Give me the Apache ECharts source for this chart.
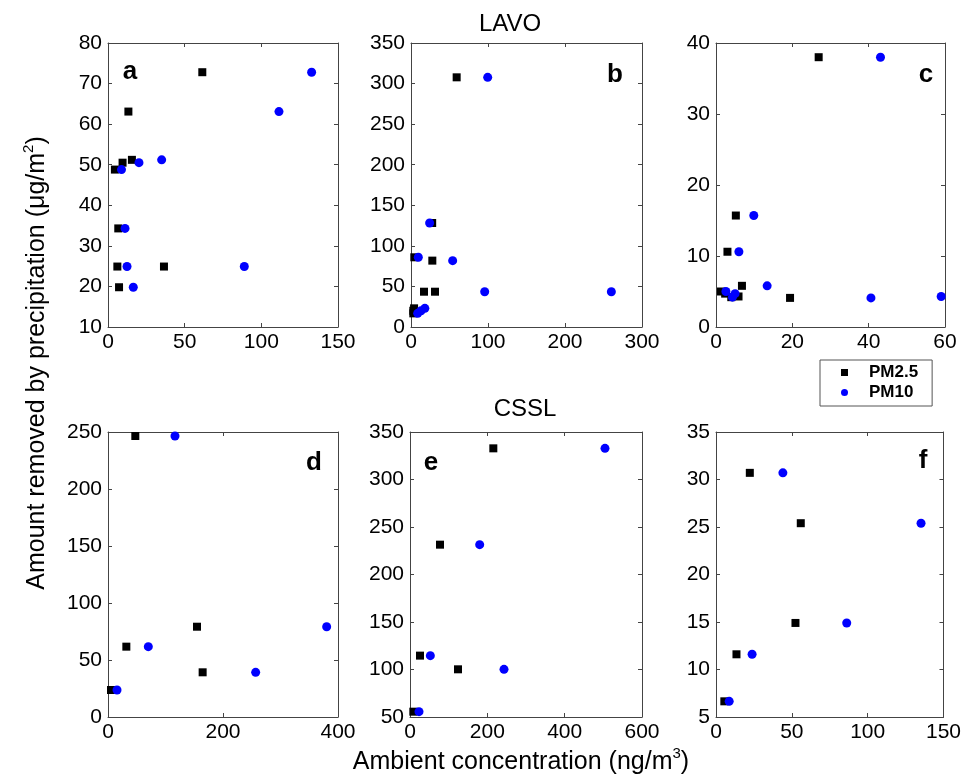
<!DOCTYPE html>
<html>
<head>
<meta charset="utf-8">
<title>Amount removed by precipitation vs ambient concentration</title>
<script src="https://cdn.jsdelivr.net/npm/echarts@6/dist/echarts.min.js"></script>
<style>
  html, body { margin: 0; padding: 0; background: #fff; }
  #chart { width: 964px; height: 780px; }
</style>
</head>
<body>
<div id="chart"></div>
<script>
// ---- Data: deposition amount (ug/m2) with matching PM2.5 / PM10 ambient concentrations (ng/m3)
// LAVO
const amountA = [72.8, 63.1, 51.2, 50.5, 48.8, 34.3, 24.9, 24.9, 19.8];
const pm25A   = [61.5, 13.3, 15.6, 9.5, 4.5, 6.7, 6.1, 36.5, 7.2];
const pm10A   = [132.8, 111.5, 35.0, 20.2, 8.8, 11.1, 12.4, 88.9, 16.5];

const amountB = [307.7, 128.2, 85.9, 81.8, 43.5, 43.5, 23.0, 20.0, 16.8];
const pm25B   = [59.3, 27.5, 4.3, 27.7, 16.9, 31.2, 4.0, 3.0, 3.0];
const pm10B   = [99.6, 24.2, 9.5, 54.1, 95.7, 260.2, 18.0, 13.0, 8.7];

const amountC = [38.0, 15.7, 10.6, 5.8, 4.1, 4.3, 5.0, 4.7, 4.2];
const pm25C   = [26.9, 5.2, 3.0, 6.8, 19.4, 5.9, 1.3, 2.4, 4.0];
const pm10C   = [43.1, 9.9, 6.0, 13.4, 40.6, 59.0, 2.6, 5.0, 4.3];

// CSSL
const amountD = [246.5, 79.2, 61.7, 39.2, 23.7];
const pm25D   = [47.5, 154.8, 31.9, 164.6, 5.2];
const pm10D   = [116.5, 380.3, 70.1, 256.8, 15.7];

const amountE = [332.8, 231.4, 114.6, 100.2, 55.6];
const pm25E   = [215.5, 77.6, 25.9, 124.1, 8.6];
const pm10E   = [504.3, 180.2, 52.6, 243.1, 23.3];

const amountF = [30.7, 25.4, 14.9, 11.6, 6.65];
const pm25F   = [22.3, 55.9, 52.4, 13.5, 5.5];
const pm10F   = [44.1, 135.2, 86.2, 23.8, 8.7];

// Tick values for each panel
const xTicksA = [0, 50, 100, 150];
const xTicksB = [0, 100, 200, 300];
const xTicksC = [0, 20, 40, 60];
const xTicksD = [0, 200, 400];
const xTicksE = [0, 200, 400, 600];
const xTicksF = [0, 50, 100, 150];

const yTicksA = [10, 20, 30, 40, 50, 60, 70, 80];
const yTicksB = [0, 50, 100, 150, 200, 250, 300, 350];
const yTicksC = [0, 10, 20, 30, 40];
const yTicksD = [0, 50, 100, 150, 200, 250];
const yTicksE = [50, 100, 150, 200, 250, 300, 350];
const yTicksF = [5, 10, 15, 20, 25, 30, 35];

const panelLetters = ['a', 'b', 'c', 'd', 'e', 'f'];
const siteNames = ['LAVO', 'CSSL'];
const seriesNames = ['PM2.5', 'PM10'];

const panels = [
  { amount: amountA, pm25: pm25A, pm10: pm10A, xt: xTicksA, yt: yTicksA },
  { amount: amountB, pm25: pm25B, pm10: pm10B, xt: xTicksB, yt: yTicksB },
  { amount: amountC, pm25: pm25C, pm10: pm10C, xt: xTicksC, yt: yTicksC },
  { amount: amountD, pm25: pm25D, pm10: pm10D, xt: xTicksD, yt: yTicksD },
  { amount: amountE, pm25: pm25E, pm10: pm10E, xt: xTicksE, yt: yTicksE },
  { amount: amountF, pm25: pm25F, pm10: pm10F, xt: xTicksF, yt: yTicksF }
];

// ---- Layout (pixels)
const gridBoxes = [
  { left: 108, top: 43, width: 230, height: 284 },
  { left: 411, top: 43, width: 231, height: 284 },
  { left: 716, top: 43, width: 229, height: 284 },
  { left: 108, top: 432, width: 230, height: 285 },
  { left: 410, top: 432, width: 232, height: 285 },
  { left: 716, top: 432, width: 229, height: 285 }
];
const letterPos = [[130, 72], [615, 75], [926, 75], [314, 463], [431, 463], [923, 461]];

const FONT = '"Liberation Sans", Arial, Helvetica, sans-serif';
const FRAME = '#444';

function axisPair(ticks, isX, gi, showLabels, pos) {
  return {
    type: 'value',
    gridIndex: gi,
    position: pos,
    min: ticks[0],
    max: ticks[ticks.length - 1],
    interval: ticks[1] - ticks[0],
    axisLine: { show: true, onZero: false, lineStyle: { color: FRAME, width: 1 } },
    axisTick: { show: true, inside: true, length: 4, lineStyle: { color: FRAME } },
    splitLine: { show: false },
    axisLabel: {
      show: showLabels,
      showMinLabel: true,
      showMaxLabel: true,
      margin: isX ? 5 : 6,
      color: '#000',
      fontSize: 21,
      fontFamily: FONT
    }
  };
}

const grid = [], xAxis = [], yAxis = [], series = [];
panels.forEach((p, i) => {
  grid.push(Object.assign({ containLabel: false, show: false }, gridBoxes[i]));
  xAxis.push(axisPair(p.xt, true, i, true, 'bottom'));
  xAxis.push(axisPair(p.xt, true, i, false, 'top'));
  yAxis.push(axisPair(p.yt, false, i, true, 'left'));
  yAxis.push(axisPair(p.yt, false, i, false, 'right'));
  series.push({
    name: seriesNames[0],
    type: 'scatter',
    xAxisIndex: 2 * i,
    yAxisIndex: 2 * i,
    symbol: 'rect',
    symbolSize: 8,
    itemStyle: { color: '#000', opacity: 1 },
    emphasis: { disabled: true },
    data: p.pm25.map((v, k) => [v, p.amount[k]])
  });
  series.push({
    name: seriesNames[1],
    type: 'scatter',
    xAxisIndex: 2 * i,
    yAxisIndex: 2 * i,
    symbol: 'circle',
    symbolSize: 9,
    itemStyle: { color: '#0000ff', opacity: 1 },
    emphasis: { disabled: true },
    data: p.pm10.map((v, k) => [v, p.amount[k]])
  });
});

const graphic = [];
panelLetters.forEach((t, i) => {
  graphic.push({
    type: 'text', x: letterPos[i][0], y: letterPos[i][1], silent: true,
    style: { text: t, fontSize: 26, fontWeight: 'bold', fontFamily: FONT, fill: '#000',
             align: 'center', verticalAlign: 'middle' }
  });
});
// Site titles
graphic.push({
  type: 'text', x: 510, y: 24, silent: true,
  style: { text: siteNames[0], fontSize: 24, fontFamily: FONT, fill: '#000', align: 'center', verticalAlign: 'middle' }
});
graphic.push({
  type: 'text', x: 525, y: 409, silent: true,
  style: { text: siteNames[1], fontSize: 24, fontFamily: FONT, fill: '#000', align: 'center', verticalAlign: 'middle' }
});
// Shared axis titles; the unit exponent is a raised, smaller token
const supStyle = { fontSize: 15, fontFamily: FONT, fill: '#000', verticalAlign: 'top', lineHeight: 15 };
graphic.push({
  type: 'text', x: 521, y: 762, silent: true,
  style: {
    text: 'Ambient concentration (ng/m{sup|3})',
    fontSize: 25, lineHeight: 32, fontFamily: FONT, fill: '#000', align: 'center', verticalAlign: 'middle',
    rich: { sup: supStyle }
  }
});
graphic.push({
  type: 'text', x: 37, y: 363, rotation: Math.PI / 2, silent: true,
  style: {
    text: 'Amount removed by precipitation (\u03bcg/m{sup|2})',
    fontSize: 25, lineHeight: 32, fontFamily: FONT, fill: '#000', align: 'center', verticalAlign: 'middle',
    rich: { sup: supStyle }
  }
});

const option = {
  animation: false,
  backgroundColor: '#fff',
  grid, xAxis, yAxis, series, graphic,
  legend: {
    left: 820,
    top: 360,
    orient: 'vertical',
    itemWidth: 7,
    itemHeight: 7,
    itemGap: 3,
    padding: [4, 14, 5, 21],
    borderColor: '#555',
    borderWidth: 1,
    backgroundColor: '#fff',
    selectedMode: false,
    textStyle: { fontSize: 17, fontWeight: 'bold', fontFamily: FONT, color: '#000', padding: [0, 0, 0, 16] },
    data: [
      { name: seriesNames[0], icon: 'rect', itemStyle: { color: '#000' } },
      { name: seriesNames[1], icon: 'circle', itemStyle: { color: '#0000ff' } }
    ]
  }
};

const chart = echarts.init(document.getElementById('chart'), null, { renderer: 'canvas' });
chart.setOption(option);
</script>
</body>
</html>
